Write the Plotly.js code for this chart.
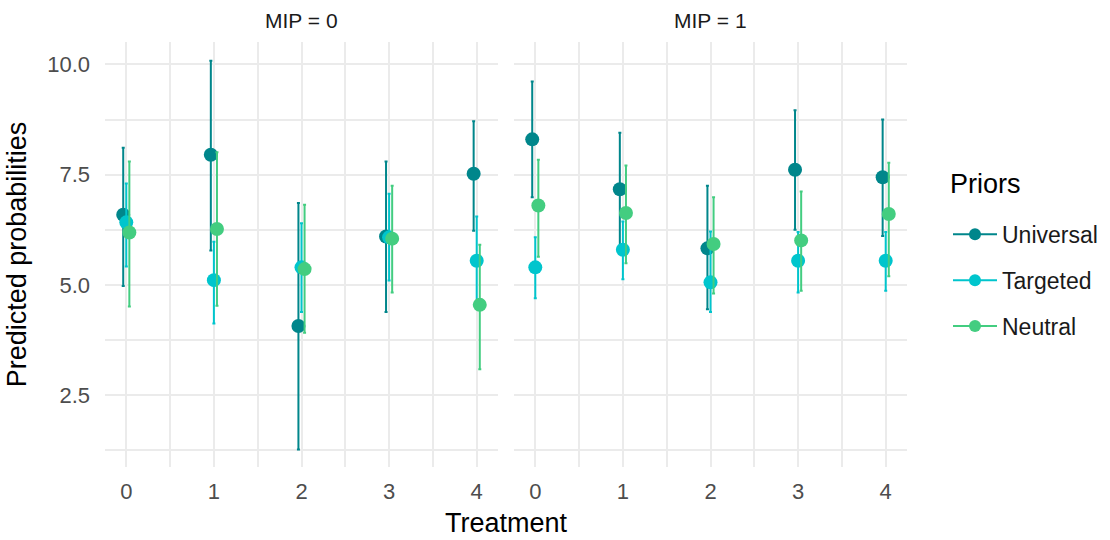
<!DOCTYPE html>
<html>
<head>
<meta charset="utf-8">
<script src="https://cdn.plot.ly/plotly-3.0.1.min.js"></script>
<style>html,body{margin:0;padding:0;background:#fff;}#chart{width:1110px;height:540px;}</style>
</head>
<body>
<div id="chart"></div>
<script>
// ---- data ----
const treatments = [0, 1, 2, 3, 4];
const priors = ["Universal", "Targeted", "Neutral"];
const colors = ["#00868B", "#00C5CD", "#43CD80"];
const yTickVals = [2.5, 5, 7.5, 10];
const yTickText = ["2.5", "5.0", "7.5", "10.0"];
const facetLabels = ["MIP = 0", "MIP = 1"];
const legendTitle = "Priors";

// MIP = 0
const mip0_universal       = [6.59, 7.95, 4.07, 6.10, 7.52];
const mip0_universal_lo    = [4.98, 5.78, 1.27, 4.39, 6.23];
const mip0_universal_hi    = [8.11, 10.08, 6.86, 7.80, 8.71];
const mip0_targeted        = [6.42, 5.11, 5.40, 6.08, 5.55];
const mip0_targeted_lo     = [5.42, 4.13, 4.39, 5.10, 4.50];
const mip0_targeted_hi     = [7.30, 5.98, 6.40, 7.07, 6.55];
const mip0_neutral         = [6.19, 6.27, 5.36, 6.05, 4.55];
const mip0_neutral_lo      = [4.51, 4.53, 3.92, 4.83, 3.09];
const mip0_neutral_hi      = [7.80, 8.01, 6.82, 7.25, 5.91];

// MIP = 1
const mip1_universal       = [8.30, 7.17, 5.83, 7.61, 7.44];
const mip1_universal_lo    = [6.99, 5.80, 4.45, 6.25, 6.11];
const mip1_universal_hi    = [9.61, 8.45, 7.25, 8.96, 8.75];
const mip1_targeted        = [5.40, 5.80, 5.06, 5.55, 5.55];
const mip1_targeted_lo     = [4.70, 5.13, 4.39, 4.83, 4.87];
const mip1_targeted_hi     = [6.08, 6.44, 6.21, 6.20, 6.20];
const mip1_neutral         = [6.80, 6.63, 5.93, 6.01, 6.61];
const mip1_neutral_lo      = [5.64, 5.49, 4.81, 4.87, 5.20];
const mip1_neutral_hi      = [7.84, 7.71, 6.99, 7.12, 7.77];

const dodge = [-0.035, 0, 0.035];
const panels = [
  {xa: "x",  series: [[mip0_universal, mip0_universal_lo, mip0_universal_hi],
                      [mip0_targeted, mip0_targeted_lo, mip0_targeted_hi],
                      [mip0_neutral, mip0_neutral_lo, mip0_neutral_hi]]},
  {xa: "x2", series: [[mip1_universal, mip1_universal_lo, mip1_universal_hi],
                      [mip1_targeted, mip1_targeted_lo, mip1_targeted_hi],
                      [mip1_neutral, mip1_neutral_lo, mip1_neutral_hi]]}
];

const traces = [];
panels.forEach(p => {
  p.series.forEach((s, i) => {
    const [v, lo, hi] = s;
    traces.push({
      type: "scatter", mode: "markers",
      x: treatments.map(t => t + dodge[i]), y: v,
      xaxis: p.xa, yaxis: "y",
      marker: {color: colors[i], size: 14, symbol: "circle"},
      error_y: {type: "data", symmetric: false,
        array: hi.map((h, k) => h - v[k]), arrayminus: lo.map((l, k) => v[k] - l),
        color: colors[i], thickness: 2, width: 1.5},
      showlegend: false, hoverinfo: "x+y"
    });
  });
});
// legend entries
priors.forEach((name, i) => {
  traces.push({type: "scatter", mode: "lines+markers", x: [null], y: [null], name: name,
    legendgroup: name, line: {color: colors[i], width: 2},
    marker: {color: colors[i], size: 12}, xaxis: "x", yaxis: "y"});
});

const grid = "#ebebeb";
const font = "Liberation Sans, Arial, sans-serif";
const xaxisBase = {
  range: [-0.243, 4.243], tickmode: "array", tickvals: treatments, ticktext: treatments.map(String),
  showgrid: true, gridcolor: grid, gridwidth: 2, zeroline: false, showline: false, ticks: "",
  ticklabelstandoff: 9,
  tickfont: {family: font, size: 22, color: "#4d4d4d"},
  minor: {dtick: 0.5, tick0: 0, showgrid: true, gridcolor: grid, gridwidth: 2}
};
const layout = {
  width: 1110, height: 540,
  paper_bgcolor: "#fff", plot_bgcolor: "#fff",
  margin: {l: 105, r: 203, t: 42, b: 73, autoexpand: false},
  font: {family: font},
  xaxis: Object.assign({}, xaxisBase, {domain: [0, 393/802], anchor: "y"}),
  xaxis2: Object.assign({}, xaxisBase, {domain: [409/802, 1], anchor: "y"}),
  yaxis: {range: [0.876, 10.506], tickmode: "array", tickvals: yTickVals,
    ticktext: yTickText, showgrid: true, gridcolor: grid, gridwidth: 2,
    zeroline: false, showline: false, ticks: "", ticklabelstandoff: 14,
    tickfont: {family: font, size: 22, color: "#4d4d4d"},
    minor: {tickvals: [1.25, 3.75, 6.25, 8.75], showgrid: true, gridcolor: grid, gridwidth: 2},
    title: {text: "Predicted probabilities", font: {family: font, size: 27, color: "#000"}, standoff: 12}},
  legend: {x: (948-105)/802, xanchor: "left", y: 0.598, yanchor: "top",
    font: {family: font, size: 23, color: "#1a1a1a"}, tracegroupgap: 13, itemwidth: 44},
  annotations: [
    {text: "Treatment", xref: "paper", yref: "paper", x: 0.5, y: 0, yshift: -56, yanchor: "middle", showarrow: false,
     font: {family: font, size: 27, color: "#000"}},
    {text: facetLabels[0], xref: "x domain", yref: "paper", x: 0.5, y: 1, yshift: 22, yanchor: "middle", showarrow: false,
     font: {family: font, size: 21, color: "#1a1a1a"}},
    {text: facetLabels[1], xref: "x2 domain", yref: "paper", x: 0.5, y: 1, yshift: 22, yanchor: "middle", showarrow: false,
     font: {family: font, size: 21, color: "#1a1a1a"}},
    {text: legendTitle, xref: "paper", yref: "paper", x: (948-105)/802, xanchor: "left",
     y: 1 - (184-42)/425, yanchor: "middle", showarrow: false,
     font: {family: font, size: 27, color: "#000"}}
  ]
};
Plotly.newPlot("chart", traces, layout, {displayModeBar: false, staticPlot: true});
</script>
</body>
</html>
